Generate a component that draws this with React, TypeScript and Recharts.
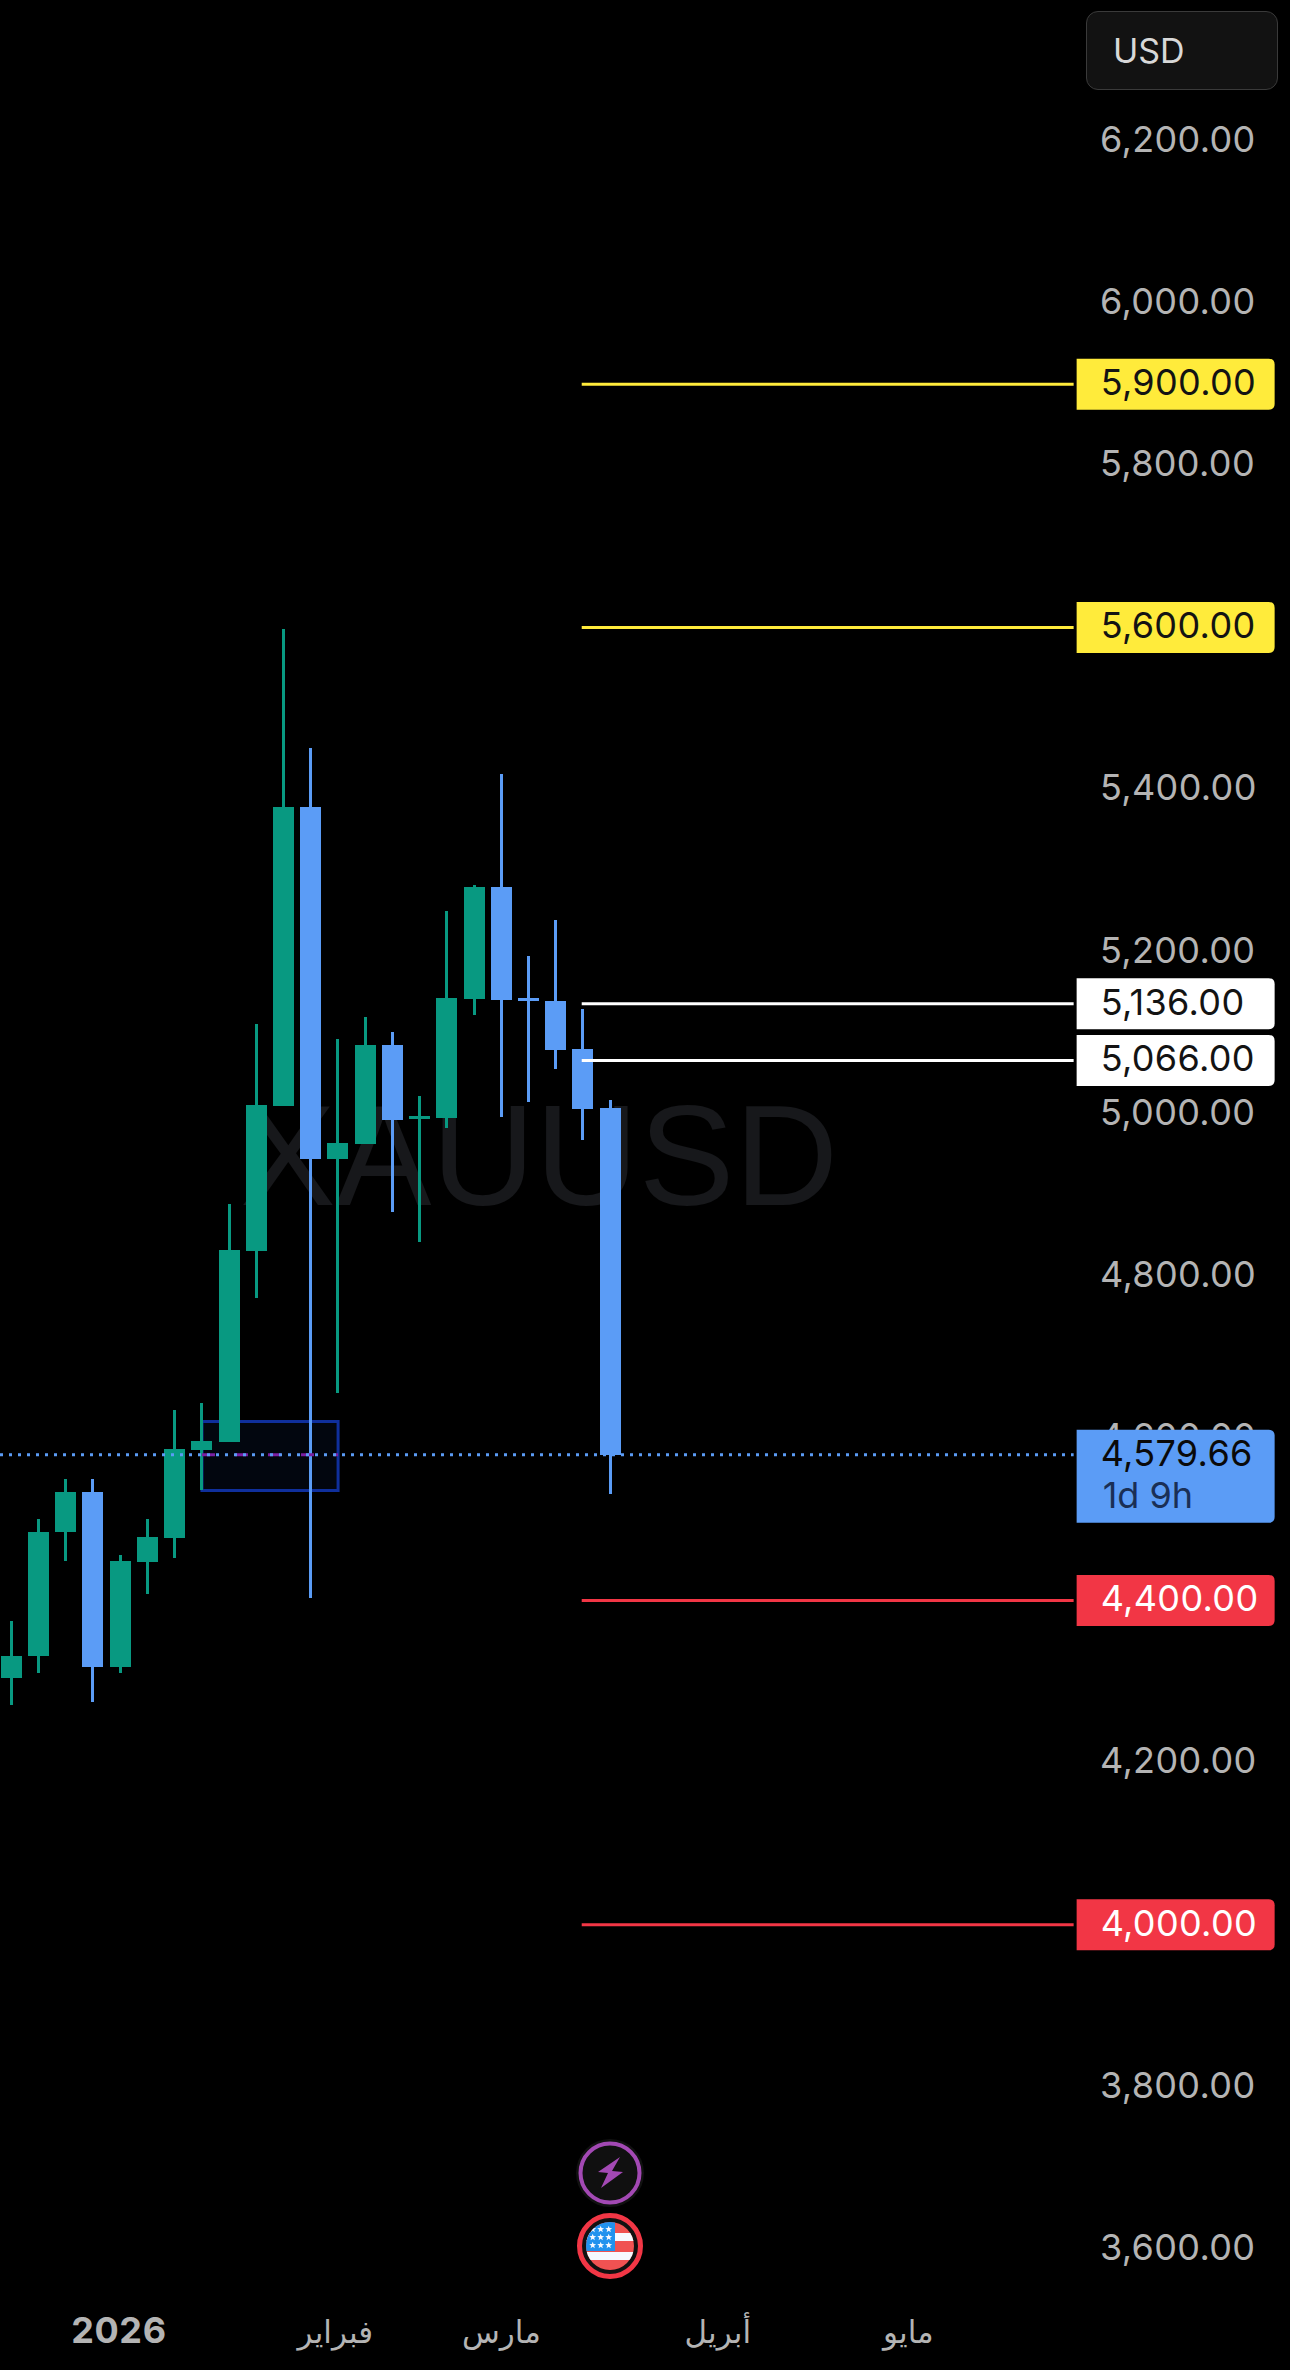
import React from "react";
import { Bar, ComposedChart, ReferenceArea, ReferenceLine, XAxis, YAxis } from "recharts";

const opens = [4304, 4332, 4484, 4534, 4318, 4447, 4477, 4586, 4596, 4831, 5010, 5378, 4945, 4963, 5085, 4994, 4995, 5142, 5280, 5143, 5139, 5080, 5007];
const highs = [4375, 4501, 4550, 4550, 4456, 4501, 4635, 4644, 4889, 5111, 5598, 5451, 5093, 5120, 5101, 5022, 5250, 5282, 5419, 5195, 5239, 5130, 5017];
const lows = [4271, 4310, 4449, 4275, 4310, 4408, 4453, 4536, 4595, 4773, 5010, 4403, 4656, 4963, 4879, 4842, 4983, 5122, 4996, 5015, 5056, 4968, 4531];
const closes = [4332, 4485, 4534, 4318, 4449, 4478, 4587, 4597, 4832, 5011, 5378, 4945, 4964, 5085, 4993, 4998, 5143, 5280, 5141, 5139, 5079, 5006, 4579.66];

const priceTicks = [6200, 6000, 5800, 5600, 5400, 5200, 5000, 4800, 4600, 4400, 4200, 4000, 3800, 3600];
const monthTicks = [3.95, 11.9, 18, 25.95, 32.95];
const monthLabels = ["2026", "فبراير", "مارس", "أبريل", "مايو"];

const levelPrices = [5900, 5600, 5136, 5066, 4400, 4000];
const levelColors = ["#ffeb3b", "#ffeb3b", "#ffffff", "#ffffff", "#f23645", "#f23645"];
const levelTextColors = ["#131313", "#131313", "#131313", "#131313", "#ffffff", "#ffffff"];

const lastPrice = 4579.66;
const countdown = "1d 9h";

const GREEN = "#089981";
const BLUE = "#5b9cf6";
const UI_FONT = "Inter, 'Liberation Sans', sans-serif";
const LETTER_SPACING = 0.35;
const X_DOMAIN: [number, number] = [-0.419, 39.07];
const Y_DOMAIN: [number, number] = [3549.6, 6373.9];

const data = opens.map((open, i) => ({
  i,
  open,
  close: closes[i],
  high: highs[i],
  low: lows[i],
  range: [lows[i], highs[i]],
}));

const fmt = (v: number) =>
  v.toLocaleString("en-US", { minimumFractionDigits: 2, maximumFractionDigits: 2 });

function Candle(props: any) {
  const { x, y, width, height, payload } = props;
  const { open, close, high, low } = payload;
  const perUnit = height / (high - low);
  const top = y + (high - Math.max(open, close)) * perUnit;
  const bodyH = Math.max(3, Math.abs(open - close) * perUnit);
  const color = close >= open ? GREEN : BLUE;
  const cx = x + width / 2;
  return (
    <g shapeRendering="crispEdges">
      <rect x={cx - 1.5} y={y} width={3} height={height} fill={color} />
      <rect x={x} y={top} width={width} height={bodyH} fill={color} />
    </g>
  );
}

function rightRounded(x: number, y: number, w: number, h: number, r: number) {
  return `M${x},${y}H${x + w - r}Q${x + w},${y} ${x + w},${y + r}V${y + h - r}Q${x + w},${y + h} ${x + w - r},${y + h}H${x}Z`;
}

function LevelBadge(props: any) {
  const { x2, y1, color, textColor, price } = props;
  return (
    <g>
      <path d={rightRounded(x2 + 3, y1 - 25.5, 198, 51, 6)} fill={color} />
      <text x={x2 + 27} y={y1 - 2} dy="0.36em" fill={textColor} fontSize={36} letterSpacing={LETTER_SPACING} fontFamily={UI_FONT}>
        {fmt(price)}
      </text>
    </g>
  );
}

function LastPriceBadge(props: any) {
  const { x2, y1 } = props;
  return (
    <g>
      <path d={rightRounded(x2 + 3, y1 - 25, 198, 93, 6)} fill={BLUE} />
      <text x={x2 + 27} y={y1 - 2} dy="0.36em" fill="#0a0a0a" fontSize={36} letterSpacing={LETTER_SPACING} fontFamily={UI_FONT}>
        {fmt(lastPrice)}
      </text>
      <text x={x2 + 29} y={y1 + 40} dy="0.36em" fill="#1a2f55" fontSize={36} fontFamily={UI_FONT}>
        {countdown}
      </text>
    </g>
  );
}

function MonthTick(props: any) {
  const { x, y, index } = props;
  const isYear = index === 0;
  return (
    <text
      x={x}
      y={y}
      textAnchor="middle"
      fill="#b4b4b4"
      fontSize={isYear ? 36 : 31}
      fontWeight={isYear ? 700 : 400}
      letterSpacing={isYear ? 0.6 : 0}
      fontFamily={isYear ? UI_FONT : "'DejaVu Sans', sans-serif"}
    >
      {monthLabels[index]}
    </text>
  );
}

function Star({ x, y }: { x: number; y: number }) {
  const pts: string[] = [];
  for (let k = 0; k < 10; k++) {
    const r = k % 2 === 0 ? 3.6 : 1.5;
    const a = -Math.PI / 2 + (k * Math.PI) / 5;
    pts.push(`${x + r * Math.cos(a)},${y + r * Math.sin(a)}`);
  }
  return <polygon points={pts.join(" ")} fill="#f7f9ff" />;
}

function Icons() {
  const cx = 610;
  const cy = 2246;
  const starXs = [584.7, 592.7, 600.7, 608.7];
  const starYs = [2229.3, 2237.3, 2245.3];
  return (
    <svg width={1290} height={2370} style={{ position: "absolute", left: 0, top: 0, pointerEvents: "none" }}>
      <circle cx={cx} cy={2173} r={34} fill="#111111" />
      <circle cx={cx} cy={2173} r={29.5} fill="#101010" stroke="#a349b4" strokeWidth={4} />
      <polygon
        points="620,2157 598,2172 608,2173 601,2188 623,2172 612,2171"
        fill="#a349b4"
      />
      <circle cx={cx} cy={cy} r={30.5} fill="#111111" stroke="#f23645" strokeWidth={5} />
      <defs>
        <clipPath id="flagClip">
          <circle cx={cx} cy={cy} r={24} />
        </clipPath>
      </defs>
      <g clipPath="url(#flagClip)">
        <rect x={cx - 24} y={cy - 24} width={48} height={48} fill="#f05252" />
        <rect x={cx - 24} y={cy - 13} width={48} height={8} fill="#f7f9ff" />
        <rect x={cx - 24} y={cy + 6} width={48} height={8} fill="#f7f9ff" />
        <rect x={cx - 24} y={cy - 24} width={29} height={29} fill="#2192ee" />
        {starYs.map((sy) =>
          starXs.filter((sx) => sx > 590 || sy < 2230).map((sx) => <Star key={`${sx}-${sy}`} x={sx} y={sy} />)
        )}
      </g>
    </svg>
  );
}

export default function App() {
  return (
    <div style={{ position: "absolute", left: 0, top: 0, width: 1290, height: 2370, background: "#000", overflow: "hidden" }}>
      <div
        style={{
          position: "absolute",
          left: 240,
          top: 1155 - 85,
          lineHeight: "170px",
          fontFamily: "'Liberation Sans', sans-serif",
          fontSize: 143.5,
          color: "#17181b",
          whiteSpace: "nowrap",
        }}
      >
        XAUUSD
      </div>
      <div style={{ position: "absolute", left: 0, top: 0 }}>
        <ComposedChart
          width={1290}
          height={2370}
          data={data}
          margin={{ top: 0, right: 0, bottom: 0, left: 0 }}
          style={{ background: "transparent" }}
        >
          <XAxis
            xAxisId={0}
            dataKey="i"
            type="number"
            domain={X_DOMAIN}
            allowDataOverflow
            ticks={monthTicks}
            interval={0}
            height={80}
            tickLine={false}
            axisLine={false}
            tickSize={0}
            tickMargin={0}
            tick={(p: any) => <MonthTick {...p} y={2343} />}
          />
          <YAxis
            yAxisId={0}
            orientation="right"
            type="number"
            domain={Y_DOMAIN}
            allowDataOverflow
            ticks={priceTicks}
            interval={0}
            width={215}
            tickLine={false}
            axisLine={false}
            tickSize={0}
            tickMargin={25}
            tickFormatter={fmt}
            tick={{ fill: "#b4b4b4", fontSize: 36, fontFamily: UI_FONT, dy: -2, letterSpacing: LETTER_SPACING }}
          />
          <ReferenceArea
            x1={7}
            x2={12}
            y1={4620.8}
            y2={4535.6}
            fill="#02060f"
            fillOpacity={1}
            stroke="#0f2f9c"
            strokeWidth={3}
          />
          <ReferenceLine
            segment={[{ x: 7, y: lastPrice }, { x: 12, y: lastPrice }]}
            stroke="#7b1fa2"
            strokeWidth={3}
            strokeDasharray="13 20"
          />
          <ReferenceLine
            segment={[{ x: -0.419, y: lastPrice }, { x: 39.02, y: lastPrice }]}
            stroke={BLUE}
            strokeWidth={3}
            strokeDasharray="3 6"
          />
          {levelPrices.map((price, k) => (
            <ReferenceLine
              key={price}
              segment={[{ x: 20.95, y: price }, { x: 39.02, y: price }]}
              stroke={levelColors[k]}
              strokeWidth={3}
            />
          ))}
          <Bar dataKey="range" barSize={21} isAnimationActive={false} shape={(p: any) => <Candle {...p} />} />
        </ComposedChart>
      </div>
      <div style={{ position: "absolute", left: 0, top: 0 }}>
        <ComposedChart
          width={1290}
          height={2370}
          data={data}
          margin={{ top: 0, right: 0, bottom: 0, left: 0 }}
          style={{ background: "transparent" }}
        >
          <XAxis xAxisId={0} dataKey="i" type="number" domain={X_DOMAIN} allowDataOverflow height={80} tick={false} tickLine={false} axisLine={false} />
          <YAxis yAxisId={0} orientation="right" type="number" domain={Y_DOMAIN} allowDataOverflow width={215} tick={false} tickLine={false} axisLine={false} />
          <ReferenceLine
            segment={[{ x: -0.419, y: lastPrice }, { x: 39.02, y: lastPrice }]}
            shape={(p: any) => <LastPriceBadge {...p} />}
          />
          {levelPrices.map((price, k) => (
            <ReferenceLine
              key={price}
              segment={[{ x: 20.95, y: price }, { x: 39.02, y: price }]}
              shape={(p: any) => (
                <LevelBadge {...p} price={price} color={levelColors[k]} textColor={levelTextColors[k]} />
              )}
            />
          ))}
        </ComposedChart>
      </div>
      <div
        style={{
          position: "absolute",
          left: 1086,
          top: 11,
          width: 192,
          height: 79,
          boxSizing: "border-box",
          background: "#121212",
          border: "1.5px solid #3a3a3a",
          borderRadius: 12,
          color: "#d8d8d8",
          fontFamily: UI_FONT,
          fontSize: 34,
          lineHeight: "78px",
          paddingLeft: 26,
        }}
      >
        USD
      </div>
      <Icons />
    </div>
  );
}
